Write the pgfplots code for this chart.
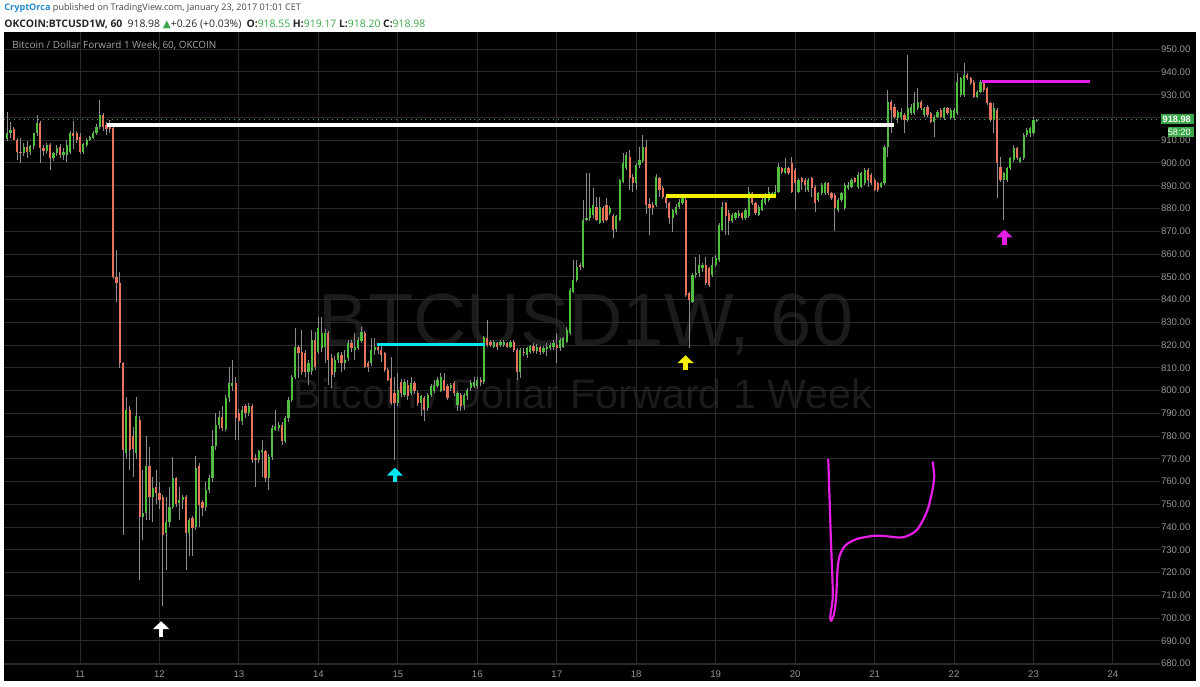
\documentclass[border=0pt]{standalone}
\usepackage{pgfplots}
\pgfplotsset{compat=1.18}
\usepackage{pgfplotstable}
\usepackage{fontspec}
\setmainfont{Open Sans}
\newfontfamily\arial{Liberation Sans}
\newfontfamily\dejavu{DejaVu Sans}
\usetikzlibrary{arrows.meta}

\definecolor{upc}{RGB}{80,190,62}
\definecolor{dnc}{RGB}{232,114,90}
\definecolor{wickc}{RGB}{140,140,140}
\definecolor{gridc}{RGB}{42,42,42}
\definecolor{labc}{RGB}{150,150,150}
\definecolor{wmc}{RGB}{27,27,27}
\definecolor{tvgreen}{RGB}{58,168,72}
\definecolor{tvblue}{RGB}{38,139,206}
\definecolor{hdrtext}{RGB}{70,70,70}
\definecolor{cyanl}{RGB}{0,230,240}
\definecolor{yell}{RGB}{245,240,0}
\definecolor{magl}{RGB}{230,30,230}

% hourly candles, k = hours from Jan 11 00:00
\pgfplotstableread{
k o h l c
-22 910.5 922.6 909.5 913.1
-21 913.1 918.0 911.0 914.5
-20 915.0 916.0 910.0 910.2
-19 910.2 911.0 901.4 905.0
-18 905.0 910.9 899.9 904.3
-17 904.3 909.0 903.0 907.2
-16 907.2 909.5 902.0 905.0
-15 905.0 908.0 903.6 907.5
-14 907.5 911.0 906.0 913.1
-13 913.0 921.1 912.0 917.5
-12 917.5 918.5 899.9 906.5
-11 906.5 908.0 903.0 905.5
-10 905.5 909.0 904.0 908.0
-9 908.0 909.0 897.0 902.1
-8 902.1 905.0 901.0 904.3
-7 904.3 908.0 903.0 906.5
-6 907.2 908.5 902.0 903.6
-5 903.6 906.5 901.4 905.0
-4 903.6 910.0 900.5 908.0
-3 905.0 914.0 904.0 913.1
-2 913.0 918.5 906.0 912.0
-1 913.0 914.0 909.0 910.0
0 911.5 913.0 904.0 905.0
1 905.0 909.0 904.0 908.5
2 908.0 911.0 907.0 910.2
3 910.2 912.0 909.5 911.6
4 911.0 914.0 910.5 913.0
5 913.1 917.0 912.5 916.0
6 916.0 927.7 915.0 921.1
7 921.1 922.0 914.0 916.0
8 916.5 918.0 912.3 915.0
9 916.0 919.0 913.0 915.0
10 915.5 917.0 849.0 850.1
11 850.1 861.8 839.1 847.2
12 847.2 852.0 810.0 812.0
13 812.0 812.5 736.6 774.0
14 772.5 797.0 770.0 791.5
15 791.5 793.0 765.0 774.0
16 780.0 784.0 762.0 774.5
17 772.5 797.0 770.0 789.0
18 787.1 789.0 716.8 744.6
19 744.6 765.2 734.4 746.1
20 746.1 779.8 743.0 766.6
21 766.6 775.0 743.0 753.0
22 753.0 762.0 742.4 757.0
23 757.8 765.0 750.0 754.9
24 755.0 760.0 748.0 752.0
25 753.4 754.0 705.1 736.6
26 737.3 753.4 721.2 742.4
27 742.4 757.8 740.0 749.0
28 749.0 771.0 748.0 761.5
29 761.5 762.0 749.0 750.0
30 750.5 757.8 743.2 752.0
31 752.0 754.0 748.0 753.0
32 753.0 754.0 721.2 737.3
33 737.3 744.0 727.1 743.2
34 744.0 745.0 727.1 739.5
35 740.2 771.0 738.5 765.9
36 766.6 768.0 740.2 749.8
37 751.2 752.0 745.0 748.3
38 749.0 760.0 747.0 756.4
39 756.4 763.0 755.0 761.5
40 761.5 782.7 760.0 775.4
41 775.4 790.1 774.0 784.9
42 784.9 791.0 783.0 788.5
43 788.5 793.0 782.0 783.5
44 783.0 798.0 782.0 796.7
45 796.7 810.5 795.0 803.3
46 801.8 813.5 800.0 803.3
47 803.3 806.0 778.3 788.0
48 790.1 792.0 778.3 786.5
49 786.5 793.0 785.0 791.5
50 793.0 794.0 788.0 790.1
51 790.1 794.5 789.0 793.0
52 793.0 794.0 768.0 769.6
53 770.3 772.0 757.8 769.6
54 769.6 774.0 768.0 773.2
55 773.2 778.3 762.2 774.0
56 773.2 774.0 760.0 761.5
57 761.5 772.0 756.4 771.0
58 771.0 785.0 769.6 783.5
59 782.7 791.5 782.0 784.2
60 783.5 786.0 782.0 784.9
61 784.9 786.0 776.0 777.6
62 777.6 789.0 776.9 787.9
63 787.9 797.0 786.0 795.9
64 795.9 807.0 795.0 806.1
65 806.1 827.4 805.0 819.3
66 819.3 820.1 805.4 816.4
67 817.1 826.7 807.0 808.3
68 816.4 818.0 806.0 808.3
69 808.3 813.5 802.5 812.0
70 808.5 826.7 807.0 822.3
71 822.3 825.9 809.0 810.5
72 817.1 832.5 816.0 827.4
73 818.6 832.5 817.0 825.2
74 819.0 827.0 812.0 825.2
75 825.2 826.0 802.5 813.5
76 814.2 816.0 801.1 806.9
77 808.3 815.0 806.0 813.5
78 813.5 817.0 812.0 816.4
79 815.7 817.0 808.3 812.0
80 812.0 817.9 809.0 813.5
81 814.2 822.3 813.0 820.8
82 820.8 822.0 817.0 818.6
83 817.9 825.2 813.5 819.3
84 818.6 823.5 818.0 822.3
85 821.8 828.1 821.0 825.9
86 825.2 826.0 810.0 810.5
87 812.0 813.0 808.3 810.5
88 812.0 823.0 811.0 817.9
89 817.9 823.0 815.7 819.3
90 819.3 820.0 816.0 817.9
91 817.9 820.1 812.7 815.7
92 816.4 817.0 808.0 809.1
93 809.1 810.0 804.0 804.7
94 805.4 814.9 793.7 794.5
95 798.9 806.0 769.6 794.5
96 794.5 807.6 793.0 800.3
97 803.9 805.0 797.0 798.9
98 798.1 805.0 797.0 803.9
99 802.5 804.7 796.0 797.4
100 798.9 806.1 798.0 803.3
101 803.3 804.0 798.5 799.6
102 798.9 799.6 793.0 794.5
103 794.5 798.0 788.6 797.4
104 796.7 797.5 786.4 791.5
105 792.2 799.0 791.0 798.1
106 798.1 803.0 797.0 801.8
107 799.6 804.7 799.0 802.5
108 801.8 806.0 801.0 804.7
109 800.0 807.6 799.5 806.1
110 804.7 807.6 799.6 800.3
111 801.8 803.0 796.0 796.7
112 801.1 803.3 800.0 802.5
113 803.3 804.0 797.5 798.9
114 793.7 800.0 790.8 798.9
115 798.1 799.0 790.8 793.0
116 793.7 799.0 791.5 798.1
117 797.4 801.0 796.0 800.3
118 801.1 804.7 800.0 803.3
119 801.8 806.1 801.0 803.9
120 801.8 806.0 800.5 804.7
121 804.7 806.0 802.0 803.9
122 803.9 824.0 803.0 823.7
123 823.0 831.1 819.0 820.1
124 821.5 822.0 819.0 820.1
125 819.3 822.0 818.5 821.5
126 820.8 821.5 817.9 819.3
127 820.1 822.0 819.3 821.5
128 820.1 822.3 819.0 821.5
129 820.8 821.5 818.5 819.3
130 819.3 822.3 818.6 821.5
131 821.5 822.3 817.0 817.9
132 817.9 818.6 804.7 808.3
133 808.3 818.6 805.4 817.9
134 817.1 818.6 815.0 816.4
135 815.7 819.3 814.5 818.6
136 817.0 820.0 816.0 819.5
137 819.5 821.0 816.5 817.5
138 817.5 820.5 816.0 819.0
139 819.0 819.5 815.5 817.0
140 817.0 819.5 816.0 818.5
141 818.5 821.0 815.0 819.3
142 818.6 821.0 817.9 820.1
143 819.3 822.0 818.0 820.8
144 820.1 825.2 812.0 818.6
145 818.6 823.0 817.5 822.3
146 819.3 823.7 818.6 823.0
147 821.5 828.0 821.0 826.7
148 825.2 845.0 824.5 844.2
149 843.5 857.4 842.8 848.6
150 848.6 857.4 847.5 854.5
151 855.2 856.0 853.0 854.5
152 854.5 883.8 853.8 875.0
153 875.0 895.5 874.3 875.7
154 875.7 895.5 874.5 880.1
155 877.2 888.9 876.0 881.6
156 880.8 885.2 874.3 875.0
157 873.6 885.2 873.0 880.8
158 880.1 881.0 873.5 874.3
159 881.6 884.5 874.5 875.0
160 877.9 881.0 877.0 880.1
161 876.5 877.5 867.0 870.6
162 871.0 877.0 869.9 876.5
163 875.0 893.0 874.3 892.6
164 891.8 904.3 891.0 899.9
165 897.7 905.0 897.0 903.6
166 902.8 905.8 888.2 893.3
167 894.0 895.0 887.4 891.1
168 891.1 900.0 888.2 899.2
169 899.2 907.2 898.0 901.4
170 901.0 912.3 900.0 907.2
171 907.2 910.2 877.5 881.6
172 882.0 884.5 868.4 880.1
173 881.6 883.0 877.0 880.1
174 881.6 895.0 880.5 894.0
175 893.3 894.0 885.2 888.2
176 888.9 890.0 884.0 885.2
177 885.2 886.0 880.1 882.3
178 882.3 883.0 873.0 875.7
179 875.7 880.0 869.9 879.4
180 877.9 882.0 877.0 880.8
181 880.8 884.0 880.0 883.0
182 882.3 886.0 881.5 884.5
183 883.8 885.5 841.0 842.0
184 842.8 843.5 818.6 839.8
185 839.1 851.6 838.5 850.8
186 850.8 858.9 849.5 851.6
187 851.6 859.6 850.0 855.2
188 853.8 856.0 852.3 855.2
189 855.2 858.9 846.4 847.2
190 853.8 854.5 845.5 846.4
191 850.8 858.9 850.0 855.2
192 855.2 859.6 854.5 858.2
193 857.4 873.5 856.5 872.8
194 870.6 883.0 870.0 880.8
195 882.3 883.0 868.4 876.5
196 877.9 879.4 868.4 874.3
197 874.3 878.0 873.5 877.2
198 875.7 878.6 875.0 877.9
199 876.5 879.4 876.0 877.9
200 877.9 878.6 875.0 875.7
201 875.7 880.1 875.0 879.4
202 876.5 889.6 876.0 887.4
203 886.7 887.4 881.5 882.3
204 882.3 883.0 877.0 877.9
205 877.2 881.6 876.5 880.8
206 879.4 884.5 879.0 883.8
207 882.3 886.7 881.5 886.0
208 883.8 889.6 883.0 887.4
209 885.5 887.4 885.0 886.7
210 885.5 890.4 885.0 887.4
211 887.4 899.9 886.7 898.4
212 897.7 898.4 895.0 896.2
213 895.5 902.1 895.0 897.7
214 897.7 898.4 894.8 895.5
215 899.9 902.8 886.7 887.4
216 897.0 898.0 879.4 891.1
217 887.4 893.3 886.7 892.6
218 893.3 894.0 888.2 891.8
219 892.6 893.5 887.4 890.4
220 888.2 893.3 887.4 892.6
221 893.3 894.0 885.2 888.9
222 889.6 890.4 878.6 882.3
223 883.8 887.4 883.0 886.7
224 886.7 891.1 886.0 890.4
225 886.7 891.8 886.0 891.1
226 891.1 891.8 886.0 886.7
227 886.7 887.4 883.8 884.5
228 886.0 886.7 869.9 880.1
229 879.4 884.5 878.6 883.8
230 883.8 887.4 883.0 886.7
231 880.1 891.1 879.4 890.4
232 888.9 891.8 888.2 890.4
233 889.6 893.3 889.0 892.6
234 893.3 894.0 891.0 891.8
235 889.6 896.2 888.8 894.8
236 889.6 896.2 889.0 895.5
237 891.1 897.7 890.4 897.0
238 897.0 897.7 889.6 892.6
239 894.8 895.5 890.5 891.1
240 892.6 893.3 887.5 888.2
241 891.1 891.8 887.4 888.2
242 889.6 891.8 889.0 891.1
243 891.1 908.0 890.4 907.2
244 907.2 932.1 902.8 927.0
245 927.0 927.7 913.1 923.3
246 924.8 926.0 919.5 920.4
247 919.7 923.3 917.5 922.6
248 920.4 924.0 919.5 922.6
249 921.1 922.0 913.1 918.9
250 918.9 947.5 918.2 924.1
251 921.9 926.0 921.1 924.8
252 921.9 931.4 921.1 926.3
253 924.1 932.9 923.3 927.0
254 927.0 927.7 923.3 924.1
255 921.1 924.8 920.4 924.1
256 924.8 925.5 920.4 921.1
257 921.9 922.6 917.5 918.2
258 918.2 921.0 911.6 920.4
259 920.4 923.3 919.7 922.6
260 923.3 924.0 919.7 920.4
261 919.7 924.8 918.9 924.1
262 924.1 924.8 921.1 921.9
263 919.7 924.1 918.9 923.3
264 919.7 924.1 918.9 923.3
265 921.9 939.5 921.1 935.8
266 929.9 938.0 929.2 937.3
267 929.9 943.8 929.2 938.7
268 938.7 939.5 936.5 937.3
269 937.3 938.0 934.5 935.1
270 935.8 936.5 928.5 929.2
271 929.2 932.1 928.5 931.4
272 931.4 936.5 930.7 935.8
273 935.1 935.8 931.4 932.1
274 932.9 933.6 925.5 926.3
275 926.3 927.0 918.2 918.9
276 918.9 926.3 913.1 924.1
277 923.3 924.0 884.5 899.9
278 898.4 902.8 891.8 892.6
279 892.6 896.2 875.0 895.5
280 892.6 898.4 891.8 897.7
281 897.7 902.8 897.0 902.1
282 901.4 908.0 900.6 906.5
283 906.5 907.2 901.4 902.1
284 900.6 902.8 899.9 902.1
285 902.1 913.1 901.4 912.3
286 912.3 915.3 911.6 914.5
287 913.1 916.0 911.6 915.3
288 913.1 920.4 912.3 918.9
289 918.55 919.17 918.2 918.98
}\candles

\begin{document}
\begin{tikzpicture}
% page and chart background
\fill[white] (0,0) rectangle (600pt,343pt);
\fill[black] (2pt,2.5pt) rectangle (598pt,327pt);

% header
\node[anchor=west, inner sep=0pt, font=\fontsize{4.55}{5.5}\selectfont] at (2pt,338.8pt)
  {\textcolor{tvblue}{\textbf{CryptOrca}} \textcolor{hdrtext}{published on TradingView.com, January 23, 2017 01:01 CET}};
\node[anchor=west, inner sep=0pt, font=\fontsize{5.2}{6}\selectfont, text=black!85] at (2pt,330.8pt)
  {\textbf{OKCOIN:BTCUSD1W, 60}\enspace 918.98 {\dejavu\textcolor{tvgreen}{▲}}+0.26 (+0.03\%)\enspace
   \textbf{O:}\textcolor{tvgreen}{918.55} \textbf{H:}\textcolor{tvgreen}{919.17} \textbf{L:}\textcolor{tvgreen}{918.20} \textbf{C:}\textcolor{tvgreen}{918.98}};

% watermark
\node[text=wmc, font=\arial\fontsize{37}{40}\selectfont] at (293pt,181pt) {BTCUSD1W, 60};
\node[text=wmc, font=\arial\fontsize{20.6}{24}\selectfont] at (291.5pt,146pt) {Bitcoin / Dollar Forward 1 Week};

\begin{axis}[
  at={(2pt,11pt)}, anchor=south west,
  width=578pt, height=316pt, scale only axis,
  xmin=-22.96, xmax=326.2, ymin=679.8, ymax=957.6,
  axis line style={draw=none},
  xtick={0,24,48,72,96,120,144,168,192,216,240,264,288,312},
  xticklabels={11,12,13,14,15,16,17,18,19,20,21,22,23,24},
  ytick={680,690,700,710,720,730,740,750,760,770,780,790,800,810,820,830,840,850,860,870,880,890,900,910,930,940,950},
  extra y ticks={920}, extra y tick labels={},
  yticklabel pos=right,
  major tick length=0pt,
  grid=major,
  major grid style={gridc, line width=0.5pt},
  /pgf/number format/assume math mode=true,
  ticklabel style={font=\arial\fontsize{4.8}{5.5}\selectfont, text=labc, inner sep=0pt},
  xticklabel style={anchor=center, yshift=-5pt},
  yticklabel style={anchor=east, xshift=15.4pt,
    /pgf/number format/.cd, fixed, fixed zerofill, precision=2},
]
% wicks
\addplot[mark=none, draw=none, error bars/.cd, y dir=both, y explicit, error mark=none,
  error bar style={draw=wickc, line width=0.45pt}]
  table[x=k, y expr={(\thisrow{h}+\thisrow{l})/2}, y error expr={(\thisrow{h}-\thisrow{l})/2}] {\candles};
% rising bodies
\addplot[mark=none, draw=none, error bars/.cd, y dir=both, y explicit, error mark=none,
  error bar style={draw=upc, line width=1.1pt}]
  table[x=k, y expr={ifthenelse(\thisrow{c}>=\thisrow{o}, (\thisrow{o}+\thisrow{c})/2, -500)},
        y error expr={max(abs(\thisrow{c}-\thisrow{o})/2, 0.3)}] {\candles};
% falling bodies
\addplot[mark=none, draw=none, error bars/.cd, y dir=both, y explicit, error mark=none,
  error bar style={draw=dnc, line width=1.1pt}]
  table[x=k, y expr={ifthenelse(\thisrow{c}<\thisrow{o}, (\thisrow{o}+\thisrow{c})/2, -500)},
        y error expr={max(abs(\thisrow{c}-\thisrow{o})/2, 0.3)}] {\candles};

% last price line
\addplot[tvgreen, dotted, line width=0.45pt] coordinates {(-22.96,918.98) (326.2,918.98)};

% drawn levels
\addplot[white, line width=1.75pt] coordinates {(8.2,916.8) (246,916.8)};
\addplot[cyanl, line width=1.6pt] coordinates {(89.8,820.1) (122.4,820.1)};
\addplot[yell, line width=1.6pt] coordinates {(177,885.5) (210.3,885.5)};
\addplot[magl, line width=1.6pt] coordinates {(272.4,935.8) (305.1,935.8)};

% arrows
\addplot[white, line width=2.2pt, -{Triangle[width=8pt,length=4pt]}] coordinates {(24.5,691.6) (24.5,698.6)};
\addplot[cyanl, line width=2.2pt, -{Triangle[width=8pt,length=4pt]}] coordinates {(95.1,759.8) (95.1,766.1)};
\addplot[yell, line width=2.2pt, -{Triangle[width=8pt,length=4pt]}] coordinates {(182.9,808.9) (182.9,815.5)};
\addplot[magl, line width=2.2pt, -{Triangle[width=8pt,length=4pt]}] coordinates {(279.2,863.8) (279.2,870.8)};

% freehand stroke
\addplot[magl, line width=1.1pt, smooth, tension=0.5] coordinates {
  (226.0,769.9) (226.8,734.4) (227.3,715.4) (227.3,708.0) (226.6,700.7) (226.9,698.9)
  (227.8,702.2) (228.4,709.5) (228.8,721.2) (229.4,727.1) (231.1,731.8) (234.6,734.7)
  (240.7,736.2) (247.7,735.4) (250.7,736.6) (253.2,739.5) (255.8,746.8) (257.3,754.9)
  (258.0,762.2) (257.5,768.8)};
\end{axis}

% chart title
\node[anchor=west, inner sep=0pt, text=black!35, font=\fontsize{4.95}{6}\selectfont] at (6pt,320.5pt)
  {Bitcoin / Dollar Forward 1 Week, 60, OKCOIN};
% bottom separator
\draw[gridc, line width=0.5pt] (2pt,11pt) -- (580pt,11pt);
% price tags
\fill[tvgreen] (580.5pt,281pt) rectangle (597pt,285.8pt);
\node[anchor=east, inner sep=0pt, text=white, font=\arial\bfseries\fontsize{4.6}{5}\selectfont] at (595.6pt,283.4pt) {918.98};
\fill[tvgreen] (584pt,274.4pt) rectangle (597pt,279.4pt);
\node[anchor=east, inner sep=0pt, text=white, font=\arial\fontsize{4.6}{5}\selectfont] at (595.6pt,276.9pt) {58:20};
\end{tikzpicture}
\end{document}
